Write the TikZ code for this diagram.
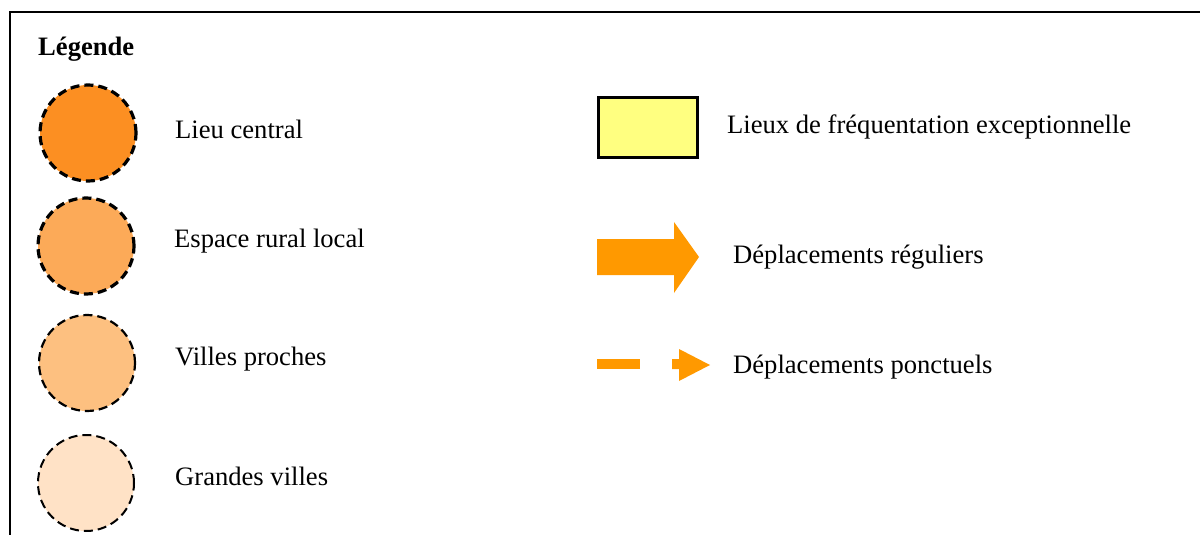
\documentclass[tikz,border=0pt]{standalone}
\usepackage{fontspec}
\setmainfont{Liberation Serif}
\definecolor{cA}{RGB}{252,143,34}
\definecolor{cB}{RGB}{252,170,88}
\definecolor{cC}{RGB}{253,192,128}
\definecolor{cD}{RGB}{255,226,198}
\definecolor{cY}{RGB}{255,255,128}
\definecolor{cO}{RGB}{255,153,0}
\begin{document}
\begin{tikzpicture}[x=1pt,y=-1pt,
  lbl/.style={anchor=base west,inner sep=0pt,font=\fontsize{26.6}{30}\selectfont},
  ring/.style={circle,minimum size=96pt,inner sep=0pt,dash pattern=on 9pt off 5pt},
  arrowfill/.style={fill=cO,draw=none}]
\useasboundingbox (0,0) rectangle (1200,535);
\draw[line width=2pt] (9.5,540) -- (9.5,12.5) -- (1205,12.5);
\node[lbl,font=\fontsize{26.6}{30}\selectfont\bfseries] (leg) at (38,56) {Légende};
\node[ring,fill=cA,draw=black,line width=3.2pt] (c1) at (88,133) {};
\node[ring,fill=cB,draw=black,line width=3.2pt] (c2) at (86,246) {};
\node[ring,fill=cC,draw=black,line width=2.2pt] (c3) at (87,363) {};
\node[ring,fill=cD,draw=black,line width=2pt] (c4) at (86,483) {};
\node[lbl] (t1) at (175,138) {Lieu central};
\node[lbl] (t2) at (174,247) {Espace rural local};
\node[lbl] (t3) at (175,365) {Villes proches};
\node[lbl] (t4) at (175,485) {Grandes villes};
\node[draw=black,fill=cY,line width=2.5pt,minimum width=99pt,minimum height=60pt,inner sep=0pt] (rect) at (648,127.5) {};
\node[lbl] (t5) at (727,133) {Lieux de fréquentation exceptionnelle};
\fill[arrowfill] (597,239) -- (674,239) -- (674,222) -- (699,257) -- (674,293) -- (674,275) -- (597,275) -- cycle;
\node[lbl] (t6) at (733,263) {Déplacements réguliers};
\fill[arrowfill] (597,359) rectangle (640,369);
\fill[arrowfill] (672,359) -- (679,359) -- (679,349) -- (710,365) -- (679,381) -- (679,369) -- (672,369) -- cycle;
\node[lbl] (t7) at (733,373) {Déplacements ponctuels};
\end{tikzpicture}
\end{document}
